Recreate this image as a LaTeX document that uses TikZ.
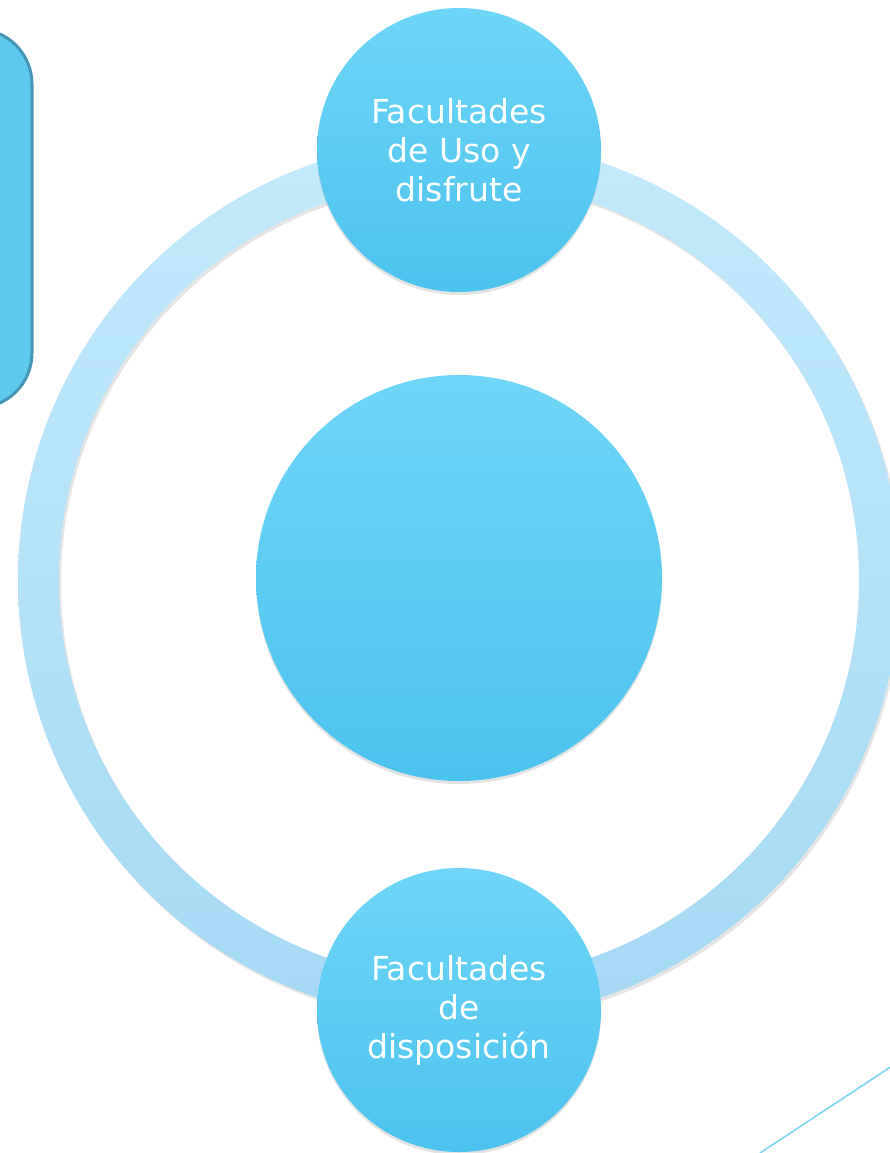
\documentclass[tikz,border=0pt]{standalone}
\usepackage{fontspec}
\setmainfont{DejaVu Sans}
\usetikzlibrary{shadows}
\definecolor{ringtop}{HTML}{C2EBFC}
\definecolor{ringbot}{HTML}{A5D9F4}
\definecolor{disctop}{HTML}{6FD6F9}
\definecolor{discbot}{HTML}{4BC3EE}
\definecolor{boxfill}{HTML}{5DC9ED}
\definecolor{boxline}{HTML}{4596B5}
\definecolor{slash}{HTML}{7FD3EE}
\tikzset{
  disc/.style={circle, inner sep=0pt, top color=disctop, bottom color=discbot,
    text=white, align=center, font=\fontsize{33}{39}\selectfont,
    drop shadow={opacity=0.22, shadow xshift=0pt, shadow yshift=-3pt}},
}
\begin{document}
\begin{tikzpicture}[x=1pt,y=-1pt]
\useasboundingbox (0,0) rectangle (890,1153);
% ring shadow
\fill[black, opacity=0.10, even odd rule] (461,583) circle (441) (461,583) circle (400);
% ring
\path[top color=ringtop, bottom color=ringbot, even odd rule] (459,580) circle (441) (459,580) circle (400);
% left rounded box
\draw[line width=3pt, draw=boxline, fill=boxfill, rounded corners=55pt] (-80,29) rectangle (32,408);
\node[disc, minimum size=406pt] (center) at (459,578) {};
\node[disc, minimum size=284pt] (top) at (459,150) {Facultades\\de Uso y\\disfrute};
\node[disc, minimum size=284pt] (bottom) at (459,1010) {Facultades\\de\\disposición};
% diagonal line
\coordinate (s1) at (760,1153);
\coordinate (s2) at (892,1066);
\draw[slash, line width=1.6pt] (s1) -- (s2);
\end{tikzpicture}
\end{document}
